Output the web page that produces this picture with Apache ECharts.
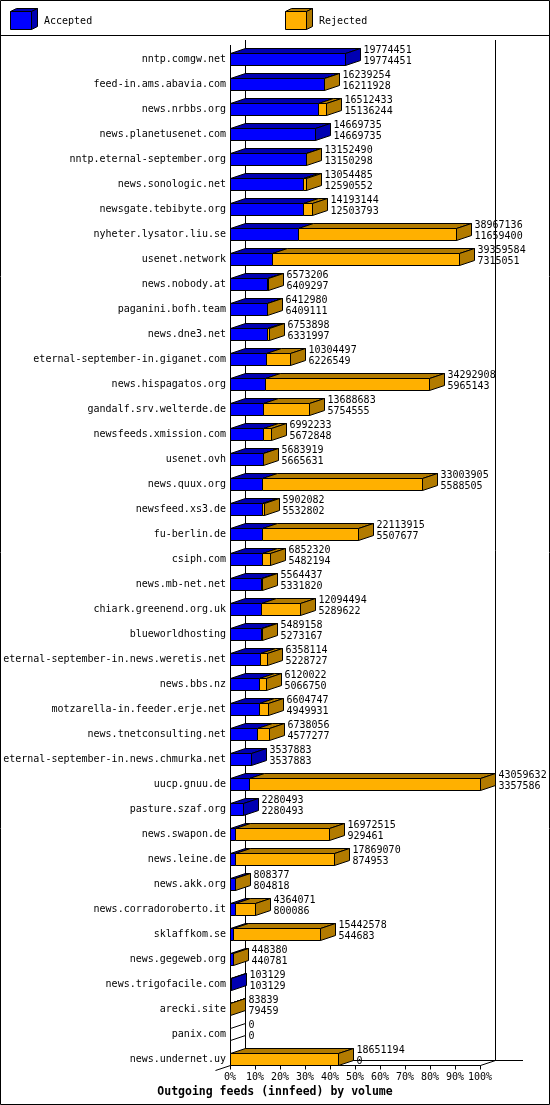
<!DOCTYPE html>
<html>
<head>
<meta charset="utf-8">
<script src="https://cdn.jsdelivr.net/npm/echarts@6/dist/echarts.min.js"></script>
<style>html,body{margin:0;padding:0;background:#fff}#chart{width:550px;height:1105px}</style>
</head>
<body>
<div id="chart"></div>
<script>
const categories = [
  'nntp.comgw.net','feed-in.ams.abavia.com','news.nrbbs.org','news.planetusenet.com',
  'nntp.eternal-september.org','news.sonologic.net','newsgate.tebibyte.org','nyheter.lysator.liu.se',
  'usenet.network','news.nobody.at','paganini.bofh.team','news.dne3.net',
  'eternal-september-in.giganet.com','news.hispagatos.org','gandalf.srv.welterde.de','newsfeeds.xmission.com',
  'usenet.ovh','news.quux.org','newsfeed.xs3.de','fu-berlin.de','csiph.com','news.mb-net.net',
  'chiark.greenend.org.uk','blueworldhosting','eternal-september-in.news.weretis.net','news.bbs.nz',
  'motzarella-in.feeder.erje.net','news.tnetconsulting.net','eternal-september-in.news.chmurka.net',
  'uucp.gnuu.de','pasture.szaf.org','news.swapon.de','news.leine.de','news.akk.org',
  'news.corradoroberto.it','sklaffkom.se','news.gegeweb.org','news.trigofacile.com','arecki.site',
  'panix.com','news.undernet.uy'
];
const totals = [
  19774451,16239254,16512433,14669735,13152490,13054485,14193144,38967136,
  39359584,6573206,6412980,6753898,10304497,34292908,13688683,6992233,
  5683919,33003905,5902082,22113915,6852320,5564437,12094494,5489158,6358114,6120022,
  6604747,6738056,3537883,43059632,2280493,16972515,17869070,808377,
  4364071,15442578,448380,103129,83839,0,18651194
];
const accepted = [
  19774451,16211928,15136244,14669735,13150298,12590552,12503793,11659400,
  7315051,6409297,6409111,6331997,6226549,5965143,5754555,5672848,
  5665631,5588505,5532802,5507677,5482194,5331820,5289622,5273167,5228727,5066750,
  4949931,4577277,3537883,3357586,2280493,929461,874953,804818,
  800086,544683,440781,103129,79459,0,0
];
const tickLabels = ['0%','10%','20%','30%','40%','50%','60%','70%','80%','90%','100%'];
const legendNames = ['Accepted','Rejected'];
const titleText = 'Outgoing feeds (innfeed) by volume';

const BLUE = '#0000ff', BLUE_D = '#0000b2', ORANGE = '#ffb000', ORANGE_D = '#b27b00';
const FONT = '10px "DejaVu Sans Mono"';
const DX = 15, DY = 5, HH = 6;

const maxTotal = Math.max(...totals);
const barData = categories.map((c, i) => [i, totals[i] / maxTotal * 100, accepted[i] / maxTotal * 100, totals[i], accepted[i]]);
const lastIdx = categories.length - 1;

function px(v) { return Math.round(v) + 0.5; }
const lineStyle = { stroke: '#000', lineWidth: 1, fill: null };
const faceStroke = { stroke: '#000', lineWidth: 1 };

function renderBar(params, api) {
  const i = api.value(0), tp = api.value(1), ap = api.value(2), t = api.value(3), a = api.value(4);
  const p0 = api.coord([0, i]), pa = api.coord([ap, i]), pt = api.coord([tp, i]);
  const c = Math.round(p0[1]);
  const x0 = px(p0[0]), xa = px(pa[0]), xt = px(pt[0]);
  const yT = c - HH + 0.5, yB = c + HH + 0.5;
  const ch = [];
  if (a > 0) {
    ch.push({ type: 'polygon', shape: { points: [[x0, yT], [xa, yT], [xa + DX, yT - DY], [x0 + DX, yT - DY]] }, style: Object.assign({ fill: BLUE_D }, faceStroke) });
    ch.push({ type: 'rect', shape: { x: x0, y: yT, width: xa - x0, height: yB - yT }, style: Object.assign({ fill: BLUE }, faceStroke) });
  }
  if (t - a > 0) {
    ch.push({ type: 'polygon', shape: { points: [[xa, yT], [xt, yT], [xt + DX, yT - DY], [xa + DX, yT - DY]] }, style: Object.assign({ fill: ORANGE_D }, faceStroke) });
    ch.push({ type: 'rect', shape: { x: xa, y: yT, width: xt - xa, height: yB - yT }, style: Object.assign({ fill: ORANGE }, faceStroke) });
  }
  const sideFill = t === 0 ? '#ffffff' : (t - a > 0 ? ORANGE_D : BLUE_D);
  ch.push({ type: 'polygon', shape: { points: [[xt, yT], [xt + DX, yT - DY], [xt + DX, yB - DY], [xt, yB]] }, style: Object.assign({ fill: sideFill }, faceStroke) });
  const lx = xt + DX + 3;
  ch.push({ type: 'text', style: { text: String(t), x: lx, y: c - 9, font: FONT, fill: '#000', align: 'left', verticalAlign: 'middle' } });
  ch.push({ type: 'text', style: { text: String(a), x: lx, y: c + 2, font: FONT, fill: '#000', align: 'left', verticalAlign: 'middle' } });
  return { type: 'group', children: ch };
}

function renderFrame(params, api) {
  const pL0 = api.coord([0, 0]), pR0 = api.coord([100, 0]);
  const pLn = api.coord([0, lastIdx]);
  const xL = Math.round(pL0[0]), xR = Math.round(pR0[0]);
  const yTop = Math.round(pL0[1]) - 14;
  const yFl = Math.round(pLn[1]) + HH;
  const ch = [];
  const ln = (x1, y1, x2, y2) => ch.push({ type: 'line', shape: { x1, y1, x2, y2 }, style: lineStyle });
  // back wall verticals
  ln(xL + DX + 0.5, yTop - DY, xL + DX + 0.5, yFl - DY + 0.5);
  ln(xR + DX + 0.5, yTop - DY, xR + DX + 0.5, yFl - DY + 0.5);
  // back floor line
  ln(xL + DX, yFl - DY + 0.5, xR + 43, yFl - DY + 0.5);
  // left floor edge
  ln(xL + 0.5, yFl + 0.5, xL + DX + 0.5, yFl - DY + 0.5);
  // front floor line
  ln(xL, yFl + 0.5, xR + 0.5, yFl + 0.5);
  ln(xR + 0.5, yFl + 0.5, xR + DX + 0.5, yFl - DY + 0.5);
  // forward diagonal at left
  ln(xL - DX + 0.5, yFl + DY + 0.5, xL + 0.5, yFl + 0.5);
  // front left axis line
  ln(xL + 0.5, yTop, xL + 0.5, yFl + 0.5);
  // ticks
  for (let k = 0; k < tickLabels.length; k++) {
    const p = api.coord([k * 10, lastIdx]);
    const x = px(p[0]);
    ln(x, yFl + 0.5, x, yFl + 4.5);
  }
  return { type: 'group', children: ch };
}

function cube(x, y, w, h, d, e, front, dark) {
  return [
    { type: 'polygon', shape: { points: [[x, y], [x + w, y], [x + w + d, y - e], [x + d, y - e]] }, style: { fill: dark, stroke: '#000', lineWidth: 1 } },
    { type: 'polygon', shape: { points: [[x + w, y], [x + w + d, y - e], [x + w + d, y + h - e], [x + w, y + h]] }, style: { fill: dark, stroke: '#000', lineWidth: 1 } },
    { type: 'rect', shape: { x, y, width: w, height: h }, style: { fill: front, stroke: '#000', lineWidth: 1 } }
  ];
}

const chart = echarts.init(document.getElementById('chart'), null, { renderer: 'canvas' });
chart.setOption({
  animation: false,
  backgroundColor: '#ffffff',
  grid: { left: 230, right: 70, top: 59, bottom: 46, containLabel: false },
  xAxis: {
    type: 'value', min: 0, max: 100, interval: 10,
    axisLine: { show: false }, axisTick: { show: false }, splitLine: { show: false },
    axisLabel: { margin: 13, color: '#000', fontFamily: 'DejaVu Sans Mono', fontSize: 10,
      formatter: v => tickLabels[Math.round(v / 10)] }
  },
  yAxis: {
    type: 'category', data: categories, inverse: true, boundaryGap: false,
    axisLine: { show: false }, axisTick: { show: false }, splitLine: { show: false },
    axisLabel: { margin: 4, color: '#000', fontFamily: 'DejaVu Sans Mono', fontSize: 10, interval: 0 }
  },
  graphic: [
    { type: 'rect', shape: { x: 0.5, y: 0.5, width: 549, height: 1104 }, style: { fill: null, stroke: '#000', lineWidth: 1 }, z: 100 },
    { type: 'line', shape: { x1: 0, y1: 35.5, x2: 550, y2: 35.5 }, style: { stroke: '#000', lineWidth: 1 }, z: 100 },
    { type: 'group', children: cube(10.5, 11.5, 21, 18, 6, 3, BLUE, BLUE_D) },
    { type: 'text', style: { text: legendNames[0], x: 44, y: 21, font: FONT, fill: '#000', verticalAlign: 'middle' } },
    { type: 'group', children: cube(285.5, 11.5, 21, 18, 6, 3, ORANGE, ORANGE_D) },
    { type: 'text', style: { text: legendNames[1], x: 319, y: 21, font: FONT, fill: '#000', verticalAlign: 'middle' } },
    { type: 'text', style: { text: titleText, x: 275, y: 1092, font: 'bold 11.5px "DejaVu Sans Mono"', fill: '#000', align: 'center', verticalAlign: 'middle' } }
  ],
  series: [
    { type: 'custom', z: 1, clip: false, silent: true, renderItem: renderFrame, data: [[0]] },
    { type: 'custom', z: 2, clip: false, silent: true, renderItem: renderBar, data: barData, encode: { x: [1, 2], y: 0 } }
  ]
});
</script>
</body>
</html>
